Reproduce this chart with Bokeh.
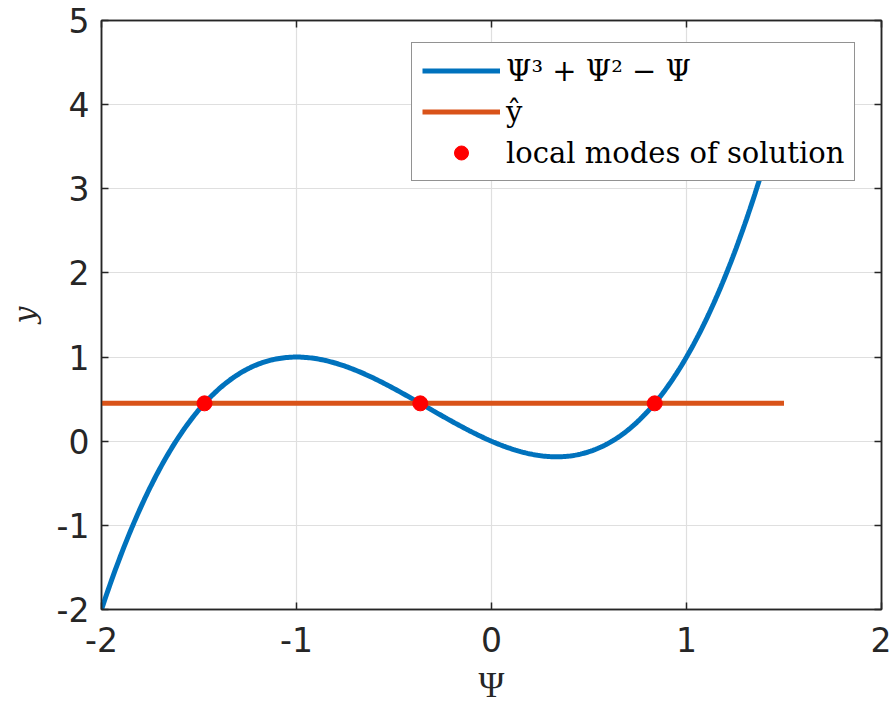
import numpy as np
from bokeh.plotting import figure
from bokeh.models import Range1d, LinearAxis, FixedTicker, Legend, LegendItem
from bokeh.embed import file_html
from bokeh.resources import INLINE

# Cubic  Psi^3 + Psi^2 - Psi  (coefficients, highest power first)
poly_coeffs = [1.0, 1.0, -1.0, 0.0]
psi = np.linspace(-2.0, 1.5, 400)
curve = np.polyval(poly_coeffs, psi)

# Observed value y-hat, drawn over the same Psi span
y_hat = 0.45
hat_x = [-2.0, 1.5]
hat_y = [y_hat, y_hat]

# Intersections of the cubic with y-hat
mode_x = [-1.4717, -0.3653, 0.8370]
mode_y = [0.45, 0.45, 0.45]

x_ticks = [-2, -1, 0, 1, 2]
y_ticks = [-2, -1, 0, 1, 2, 3, 4, 5]

BLUE = "#0072BD"
ORANGE = "#D95319"
AXIS = "#262626"
GRID = "#dfdfdf"

p = figure(width=891, height=711, output_backend="svg", toolbar_location=None,
           x_range=Range1d(-2, 2), y_range=Range1d(-2, 5),
           min_border_left=101, min_border_right=10,
           min_border_top=20, min_border_bottom=102,
           x_axis_label="Ψ", y_axis_label="y")
p.background_fill_color = "white"
p.border_fill_color = "white"
p.outline_line_color = AXIS
p.outline_line_width = 1.5

def style_axis(ax, ticks, show_labels=True):
    ax.ticker = FixedTicker(ticks=ticks)
    ax.axis_line_color = AXIS
    ax.axis_line_width = 1.5
    ax.major_tick_line_color = AXIS
    ax.major_tick_line_width = 1.5
    ax.major_tick_in = 7
    ax.major_tick_out = 0
    ax.minor_tick_line_color = None
    ax.major_label_text_font = "DejaVu Sans"
    ax.major_label_text_color = AXIS
    ax.major_label_text_font_size = "33px"
    if show_labels:
        # plain hyphen-minus for negative tick labels
        ax.major_label_overrides = {t: str(t) for t in ticks}
    else:
        ax.major_label_overrides = {t: "" for t in ticks}
        ax.major_label_standoff = 0

style_axis(p.xaxis[0], x_ticks)
style_axis(p.yaxis[0], y_ticks)
p.xaxis[0].major_label_standoff = 17
p.yaxis[0].major_label_standoff = 12

p.xaxis[0].axis_label_text_font = "Liberation Serif"
p.xaxis[0].axis_label_text_font_style = "normal"
p.xaxis[0].axis_label_text_font_size = "35px"
p.xaxis[0].axis_label_text_color = AXIS
p.xaxis[0].axis_label_standoff = 11
p.yaxis[0].axis_label_text_font = "DejaVu Serif"
p.yaxis[0].axis_label_text_font_style = "italic"
p.yaxis[0].axis_label_text_font_size = "30px"
p.yaxis[0].axis_label_text_color = AXIS
p.yaxis[0].axis_label_standoff = 12

top_ax = LinearAxis()
right_ax = LinearAxis()
style_axis(top_ax, x_ticks, show_labels=False)
style_axis(right_ax, y_ticks, show_labels=False)
p.add_layout(top_ax, "above")
p.add_layout(right_ax, "right")

p.xgrid.ticker = FixedTicker(ticks=x_ticks)
p.ygrid.ticker = FixedTicker(ticks=y_ticks)
p.grid.grid_line_color = GRID
p.grid.grid_line_width = 1.2

r_curve = p.line(psi, curve, line_color=BLUE, line_width=5)
r_hat = p.line(hat_x, hat_y, line_color=ORANGE, line_width=5)
r_modes = p.scatter(mode_x, mode_y, size=15, fill_color="#FF0000", line_color="#FF0000")

legend = Legend(items=[
    LegendItem(label="Ψ³ + Ψ² − Ψ", renderers=[r_curve]),
    LegendItem(label="ŷ", renderers=[r_hat]),
    LegendItem(label="local modes of solution", renderers=[r_modes]),
], location=(310, 428))
legend.label_text_font = "DejaVu Serif"
legend.label_text_font_size = "29px"
legend.label_text_color = "black"
legend.glyph_width = 78
legend.glyph_height = 35
legend.label_height = 35
legend.spacing = 6
legend.padding = 10
legend.margin = 0
legend.label_standoff = 6
legend.border_line_color = AXIS
legend.border_line_width = 1.5
legend.background_fill_color = "white"
legend.background_fill_alpha = 1.0
p.add_layout(legend, "center")

open("out.html", "w").write(file_html(p, INLINE))
